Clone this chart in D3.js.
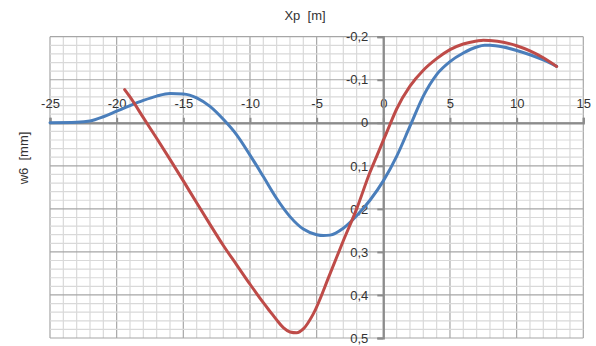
<!DOCTYPE html>
<html><head><meta charset="utf-8">
<script src="https://cdn.jsdelivr.net/npm/d3@7"></script>
<style>body{margin:0;background:#fff}svg{display:block}text{font-family:"Liberation Sans","DejaVu Sans",sans-serif;fill:#333;white-space:pre}</style>
</head><body>
<svg id="c" width="596" height="346"></svg>
<script>
const blueX = [-25,-23,-22,-21,-20,-19,-18,-17,-16,-15,-14,-13,-12,-11,-10,-9,-8,-7,-6,-5,-4.5,-4,-3,-2,-1,0,1,2,3,4,5,6,7,7.6,8,9,10,11,12,13];
const blueY = [0,-0.001,-0.004,-0.014,-0.027,-0.04,-0.052,-0.062,-0.068,-0.067,-0.058,-0.038,-0.008,0.028,0.075,0.125,0.176,0.218,0.247,0.26,0.262,0.261,0.245,0.216,0.18,0.135,0.078,0.008,-0.062,-0.112,-0.142,-0.162,-0.176,-0.18,-0.18,-0.176,-0.168,-0.158,-0.146,-0.131];
const redX = [-19.4,-19,-18,-17.75,-17,-16,-15,-14,-13,-12,-11,-10,-9,-8.5,-8,-7.5,-7,-6.5,-6,-5.25,-4,-3,-2,-1,-0.5,0,0.5,1,2,3,4,5,6,7,7.5,8,9,10,11,12,13];
const redY = [-0.077,-0.06,-0.012,0,0.036,0.085,0.135,0.186,0.236,0.285,0.33,0.375,0.418,0.438,0.458,0.476,0.486,0.488,0.479,0.444,0.351,0.274,0.2,0.115,0.078,0.041,0.004,-0.032,-0.085,-0.122,-0.149,-0.17,-0.183,-0.19,-0.192,-0.191,-0.187,-0.179,-0.167,-0.151,-0.131];
const xTicks = [-25,-20,-15,-10,-5,0,5,10,15];
const yTicks = [-0.2,-0.1,0,0.1,0.2,0.3,0.4,0.5];
const xTitle = "Xp  [m]", yTitle = "w6  [mm]";

const svg = d3.select("#c");
const x = d3.scaleLinear().domain([-25,15]).range([50,583.3]);
const y = d3.scaleLinear().domain([-0.2,0.5]).range([36.7,338]);
const fmt = v => { const s = d3.format(".1f")(v).replace("−","-").replace(".",","); return (s==="0,0"||s==="-0,0")?"0":s; };

const g = svg.append("g");
g.selectAll(".mx").data(d3.range(-25,15.01,1)).join("line")
 .attr("x1",d=>x(d)).attr("x2",d=>x(d)).attr("y1",y(-0.2)).attr("y2",y(0.5))
 .attr("stroke",d=>d%5===0?"#a6a6a6":"#d9d9d9").attr("stroke-width",1.2);
g.selectAll(".my").data(d3.range(-0.2,0.5001,0.02)).join("line")
 .attr("y1",d=>y(d)).attr("y2",d=>y(d)).attr("x1",x(-25)).attr("x2",x(15))
 .attr("stroke",(d,i)=>i%5===0?"#a6a6a6":"#d9d9d9").attr("stroke-width",1.2);

const xa = svg.append("g").attr("transform",`translate(0,${y(0)})`)
 .call(d3.axisBottom(x).tickValues(xTicks).tickSize(-5).tickFormat(d=>String(d)));
xa.select(".domain").attr("stroke","#8c8c8c").attr("stroke-width",2.2);
xa.selectAll(".tick line").attr("stroke","#8c8c8c").attr("stroke-width",2);
xa.selectAll(".tick text").attr("y",-15).attr("dy",0).attr("font-size",13).attr("fill","#333");
const ya = svg.append("g").attr("transform",`translate(${x(0)},0)`)
 .call(d3.axisLeft(y).tickValues(yTicks).tickSize(6).tickFormat(fmt));
ya.select(".domain").attr("stroke","#8c8c8c").attr("stroke-width",2.2);
ya.selectAll(".tick line").attr("stroke","#8c8c8c").attr("stroke-width",2);
ya.selectAll(".tick text").attr("x",-15).attr("font-size",13).attr("fill","#333");

const line = d3.line().x(d=>x(d[0])).y(d=>y(d[1])).curve(d3.curveMonotoneX);
svg.append("path").datum(blueX.map((v,i)=>[v,blueY[i]])).attr("d",line)
 .attr("fill","none").attr("stroke","#4a7ebb").attr("stroke-width",3).attr("stroke-linecap","round");
svg.append("path").datum(redX.map((v,i)=>[v,redY[i]])).attr("d",line)
 .attr("fill","none").attr("stroke","#be4b48").attr("stroke-width",3).attr("stroke-linecap","round");

svg.append("text").attr("x",305).attr("y",20).attr("text-anchor","middle").attr("font-size",13).text(xTitle);
svg.append("text").attr("transform","translate(28,158) rotate(-90)").attr("text-anchor","middle").attr("font-size",13).text(yTitle);
</script>
</body></html>
